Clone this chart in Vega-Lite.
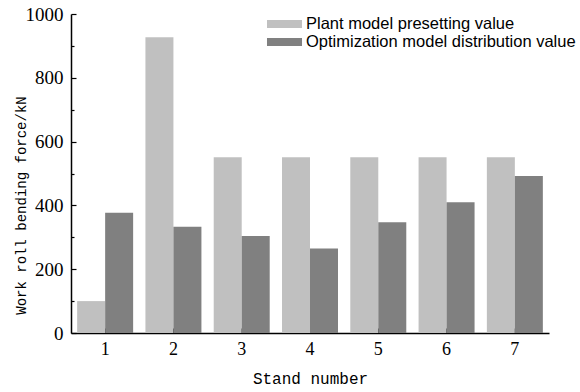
{
  "$schema": "https://vega.github.io/schema/vega-lite/v6.json",
  "width": 478,
  "height": 319,
  "autosize": "none",
  "padding": {"left": 71, "top": 14, "right": 31, "bottom": 59},
  "background": "white",
  "config": {"view": {"stroke": null}},
  "data": {"values": [
    {"stand": 1, "series": "Plant model presetting value", "force": 100},
    {"stand": 1, "series": "Optimization model distribution value", "force": 377},
    {"stand": 2, "series": "Plant model presetting value", "force": 927},
    {"stand": 2, "series": "Optimization model distribution value", "force": 333},
    {"stand": 3, "series": "Plant model presetting value", "force": 551},
    {"stand": 3, "series": "Optimization model distribution value", "force": 304},
    {"stand": 4, "series": "Plant model presetting value", "force": 551},
    {"stand": 4, "series": "Optimization model distribution value", "force": 265},
    {"stand": 5, "series": "Plant model presetting value", "force": 551},
    {"stand": 5, "series": "Optimization model distribution value", "force": 347},
    {"stand": 6, "series": "Plant model presetting value", "force": 551},
    {"stand": 6, "series": "Optimization model distribution value", "force": 410},
    {"stand": 7, "series": "Plant model presetting value", "force": 551},
    {"stand": 7, "series": "Optimization model distribution value", "force": 492}
  ]},
  "mark": {"type": "bar"},
  "encoding": {
    "x": {
      "field": "stand", "type": "ordinal",
      "scale": {"paddingInner": 0.18, "paddingOuter": 0.09},
      "axis": {
        "title": "Stand number", "titleFont": "Liberation Mono", "titleFontSize": 16, "titleFontWeight": "normal", "titleColor": "black", "titlePadding": 12,
        "labelAngle": 0, "labelFont": "Liberation Serif", "labelFontSize": 18, "labelColor": "black", "labelPadding": 12,
        "domainColor": "black", "domainWidth": 1.5, "tickColor": "black", "tickSize": -5, "tickWidth": 1.2
      }
    },
    "xOffset": {"field": "series", "type": "nominal", "sort": ["Plant model presetting value", "Optimization model distribution value"], "scale": {"paddingInner": 0, "paddingOuter": 0}},
    "y": {
      "field": "force", "type": "quantitative",
      "scale": {"domain": [0, 1000], "nice": false},
      "axis": {
        "title": "Work roll bending force/kN", "titleFont": "Liberation Mono", "titleFontSize": 14, "titleFontWeight": "normal", "titleColor": "black",
        "titleX": -46, "titleY": 191, "titleAngle": -90, "titleAlign": "center", "titleBaseline": "alphabetic",
        "values": [0, 100, 200, 300, 400, 500, 600, 700, 800, 900, 1000],
        "format": "d",
        "labelExpr": "datum.value % 200 === 0 ? datum.label : ''",
        "labelFont": "Liberation Serif", "labelFontSize": 19, "labelColor": "black", "labelPadding": 13,
        "domainColor": "black", "domainWidth": 1.5, "tickColor": "black", "tickWidth": 1.2,
        "tickSize": {"condition": {"test": "datum.value % 200 === 0", "value": -5}, "value": -3},
        "grid": false
      }
    },
    "color": {
      "field": "series", "type": "nominal",
      "sort": ["Plant model presetting value", "Optimization model distribution value"],
      "scale": {"range": ["#c0c0c0", "#808080"]},
      "legend": {
        "orient": "none", "legendX": 205, "legendY": 1.5, "title": null, "padding": 0,
        "symbolType": "M-2.06,-0.47H2.06V0.47H-2.06Z", "symbolSize": 289, "symbolStrokeWidth": 0, "symbolOpacity": 1,
        "labelFont": "Liberation Sans", "labelFontSize": 16.5, "labelColor": "black", "labelOffset": 13, "labelLimit": 400,
        "rowPadding": 1
      }
    }
  }
}
